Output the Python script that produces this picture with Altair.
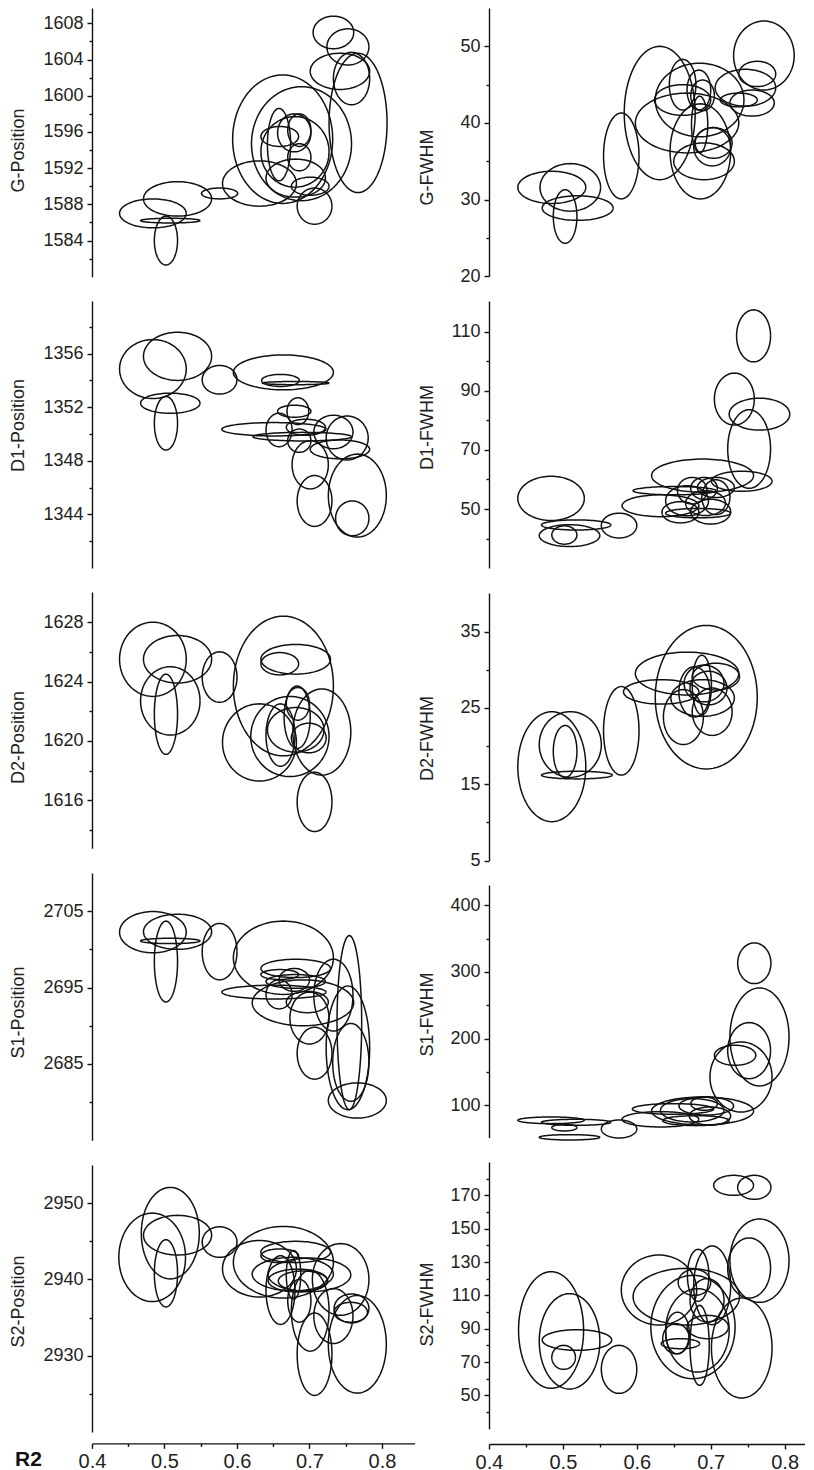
import math
import pandas as pd
import altair as alt

# Each ellipse: (center R2, center value, half-width in R2, half-height in value)
G_POSITION = [
    (0.733, 1607.0, 0.028, 1.8), (0.753, 1605.4, 0.029, 2.0), (0.742, 1602.7, 0.041, 2.0),
    (0.767, 1597.0, 0.040, 7.7), (0.758, 1601.9, 0.025, 2.9), (0.663, 1595.2, 0.069, 7.1),
    (0.689, 1594.7, 0.069, 6.3), (0.680, 1593.8, 0.047, 3.9), (0.658, 1594.6, 0.016, 4.0),
    (0.659, 1595.5, 0.026, 1.1), (0.679, 1595.9, 0.023, 2.1), (0.686, 1596.2, 0.016, 1.8),
    (0.686, 1593.2, 0.016, 1.5), (0.681, 1590.9, 0.041, 2.1), (0.701, 1590.0, 0.026, 1.0),
    (0.707, 1587.8, 0.024, 2.0), (0.631, 1590.3, 0.051, 2.5), (0.576, 1589.2, 0.025, 0.6),
    (0.518, 1588.6, 0.047, 1.9), (0.484, 1587.0, 0.046, 1.6), (0.508, 1586.2, 0.041, 0.26),
    (0.502, 1584.0, 0.016, 2.7),
]
G_FWHM = [
    (0.772, 48.8, 0.041, 4.5), (0.763, 46.4, 0.025, 1.65), (0.747, 44.6, 0.041, 2.4),
    (0.756, 42.6, 0.030, 1.7), (0.738, 43.0, 0.025, 0.9), (0.685, 43.0, 0.060, 4.8),
    (0.668, 40.0, 0.070, 3.9), (0.631, 41.3, 0.048, 8.7), (0.579, 35.7, 0.024, 5.6),
    (0.662, 45.0, 0.018, 3.3), (0.684, 44.3, 0.016, 2.6), (0.689, 43.6, 0.016, 2.0),
    (0.662, 43.0, 0.038, 2.0), (0.686, 36.3, 0.041, 6.2), (0.691, 35.0, 0.041, 2.4),
    (0.702, 36.9, 0.025, 2.5), (0.704, 37.4, 0.025, 2.0), (0.685, 39.8, 0.011, 3.7),
    (0.510, 31.6, 0.041, 3.1), (0.485, 31.6, 0.046, 2.1), (0.520, 28.9, 0.048, 1.6),
    (0.503, 27.8, 0.016, 3.5),
]
D1_POSITION = [
    (0.484, 1354.85, 0.046, 2.2), (0.518, 1355.8, 0.047, 1.8), (0.508, 1352.3, 0.041, 0.75),
    (0.502, 1350.8, 0.016, 2.0), (0.576, 1354.05, 0.024, 1.07), (0.664, 1354.6, 0.069, 1.3),
    (0.660, 1354.0, 0.026, 0.45), (0.681, 1353.8, 0.046, 0.12), (0.684, 1351.7, 0.015, 1.0),
    (0.679, 1351.7, 0.023, 0.45), (0.651, 1350.35, 0.072, 0.5), (0.690, 1349.8, 0.068, 0.32),
    (0.658, 1350.3, 0.018, 1.25), (0.686, 1349.5, 0.016, 0.87), (0.695, 1350.5, 0.027, 0.6),
    (0.733, 1350.15, 0.027, 1.25), (0.752, 1349.7, 0.029, 1.64), (0.742, 1348.85, 0.041, 0.7),
    (0.701, 1347.7, 0.025, 1.8), (0.707, 1345.0, 0.024, 1.9), (0.766, 1345.4, 0.040, 3.1),
    (0.759, 1343.7, 0.023, 1.3),
]
D1_FWHM = [
    (0.758, 108.6, 0.023, 8.8), (0.732, 87.2, 0.027, 8.8), (0.766, 82.1, 0.041, 5.4),
    (0.752, 70.3, 0.029, 13.3), (0.689, 61.3, 0.069, 5.6), (0.742, 59.4, 0.041, 3.4),
    (0.484, 53.6, 0.045, 7.5), (0.518, 44.6, 0.047, 1.7), (0.509, 41.0, 0.041, 3.7),
    (0.502, 41.2, 0.017, 3.1), (0.576, 44.4, 0.024, 4.2), (0.632, 51.1, 0.052, 3.7),
    (0.651, 56.2, 0.056, 1.4), (0.668, 52.8, 0.029, 5.1), (0.675, 56.2, 0.020, 4.5),
    (0.691, 57.0, 0.018, 3.7), (0.707, 57.3, 0.025, 3.4), (0.700, 49.1, 0.027, 4.2),
    (0.659, 48.9, 0.025, 3.6), (0.683, 48.6, 0.044, 1.6), (0.693, 52.0, 0.027, 4.2),
    (0.707, 54.0, 0.019, 5.9),
]
D2_POSITION = [
    (0.484, 1625.5, 0.046, 2.5), (0.518, 1625.5, 0.047, 1.6), (0.508, 1622.7, 0.041, 2.3),
    (0.502, 1621.8, 0.016, 2.7), (0.576, 1624.3, 0.024, 1.7), (0.664, 1623.7, 0.069, 4.7),
    (0.681, 1625.5, 0.048, 1.0), (0.659, 1625.2, 0.026, 0.75), (0.631, 1619.9, 0.051, 2.6),
    (0.673, 1620.3, 0.054, 2.7), (0.717, 1620.6, 0.040, 2.9), (0.683, 1621.6, 0.018, 2.1),
    (0.684, 1622.5, 0.016, 1.1), (0.660, 1620.4, 0.020, 2.1), (0.681, 1620.75, 0.039, 1.5),
    (0.699, 1620.2, 0.024, 1.0), (0.707, 1615.9, 0.024, 2.0),
]
D2_FWHM = [
    (0.485, 17.3, 0.046, 7.2), (0.510, 20.2, 0.042, 4.3), (0.503, 19.3, 0.016, 3.4),
    (0.519, 16.2, 0.048, 0.5), (0.579, 22.0, 0.024, 5.8), (0.633, 27.1, 0.051, 1.6),
    (0.668, 29.5, 0.070, 2.8), (0.694, 26.4, 0.069, 9.4), (0.689, 26.3, 0.043, 2.4),
    (0.707, 29.1, 0.032, 1.75), (0.663, 23.8, 0.027, 3.6), (0.702, 24.5, 0.027, 3.1),
    (0.688, 28.0, 0.013, 3.9), (0.678, 27.1, 0.021, 3.3), (0.691, 28.2, 0.027, 2.4),
    (0.697, 27.6, 0.025, 2.2),
]
S1_POSITION = [
    (0.484, 2702.25, 0.046, 2.7), (0.518, 2702.3, 0.047, 2.3), (0.508, 2701.1, 0.041, 0.35),
    (0.502, 2698.4, 0.016, 5.3), (0.576, 2699.7, 0.024, 3.7), (0.664, 2698.9, 0.069, 4.8),
    (0.681, 2697.5, 0.048, 1.2), (0.659, 2696.7, 0.026, 0.65), (0.681, 2695.8, 0.041, 0.9),
    (0.679, 2696.0, 0.021, 1.5), (0.651, 2694.4, 0.072, 0.9), (0.691, 2693.0, 0.070, 3.0),
    (0.658, 2694.1, 0.018, 1.9), (0.697, 2693.1, 0.029, 1.4), (0.700, 2691.0, 0.027, 3.4),
    (0.733, 2694.0, 0.027, 4.7), (0.753, 2687.1, 0.030, 8.1), (0.755, 2690.4, 0.017, 11.4),
    (0.757, 2685.2, 0.025, 5.1), (0.766, 2680.2, 0.040, 2.3), (0.707, 2686.4, 0.024, 3.4),
]
S1_FWHM = [
    (0.759, 313.0, 0.0225, 30.5), (0.766, 202.5, 0.040, 73.5), (0.752, 182.0, 0.029, 42.0),
    (0.733, 175.0, 0.028, 15.0), (0.741, 142.5, 0.042, 52.5), (0.689, 91.5, 0.069, 21.0),
    (0.632, 79.0, 0.052, 11.5), (0.649, 94.5, 0.055, 8.0), (0.675, 92.5, 0.043, 17.5),
    (0.694, 99.0, 0.037, 13.5), (0.699, 84.0, 0.028, 13.5), (0.680, 77.0, 0.045, 7.5),
    (0.691, 102.5, 0.018, 10.0), (0.484, 77.5, 0.045, 5.0), (0.518, 74.5, 0.047, 4.5),
    (0.502, 66.5, 0.017, 5.0), (0.509, 52.0, 0.041, 4.0), (0.576, 64.5, 0.024, 13.5),
]
S2_POSITION = [
    (0.483, 2942.9, 0.046, 5.8), (0.508, 2946.06, 0.040, 6.0), (0.518, 2945.8, 0.047, 2.6),
    (0.502, 2940.8, 0.016, 4.4), (0.576, 2944.9, 0.024, 2.0), (0.664, 2942.25, 0.069, 4.7),
    (0.631, 2941.4, 0.051, 3.7), (0.681, 2943.6, 0.048, 1.4), (0.659, 2943.1, 0.026, 0.9),
    (0.677, 2940.7, 0.056, 2.2), (0.700, 2940.6, 0.057, 2.2), (0.684, 2939.85, 0.041, 1.5),
    (0.691, 2939.8, 0.034, 1.3), (0.660, 2938.6, 0.020, 4.5), (0.678, 2940.6, 0.010, 3.2),
    (0.686, 2937.2, 0.016, 2.8), (0.701, 2935.9, 0.026, 5.3), (0.743, 2940.0, 0.039, 4.7),
    (0.733, 2935.2, 0.027, 3.6), (0.758, 2936.2, 0.024, 1.9), (0.757, 2935.7, 0.023, 1.3),
    (0.766, 2931.5, 0.040, 6.4), (0.707, 2930.2, 0.024, 5.4),
]
S2_FWHM = [
    (0.731, 176.0, 0.027, 6.0), (0.759, 174.8, 0.0225, 7.2), (0.766, 130.8, 0.040, 25.0),
    (0.752, 126.4, 0.029, 18.0), (0.630, 113.2, 0.051, 21.0), (0.667, 109.2, 0.072, 17.0),
    (0.683, 122.0, 0.0145, 15.6), (0.678, 117.8, 0.022, 7.8), (0.702, 116.0, 0.025, 23.6),
    (0.695, 107.0, 0.023, 13.0), (0.676, 91.0, 0.057, 31.0), (0.682, 89.0, 0.043, 25.0),
    (0.742, 78.4, 0.041, 30.0), (0.685, 80.0, 0.013, 24.0), (0.696, 91.0, 0.028, 7.0),
    (0.655, 87.4, 0.016, 12.5), (0.659, 81.0, 0.026, 3.0), (0.653, 84.0, 0.018, 9.0),
    (0.484, 89.2, 0.044, 35.0), (0.509, 82.4, 0.041, 28.6), (0.519, 83.2, 0.047, 6.2),
    (0.501, 72.8, 0.016, 7.2), (0.576, 65.6, 0.024, 14.4),
]

X_MAJOR = [0.4, 0.5, 0.6, 0.7, 0.8]
X_MINOR = [0.45, 0.55, 0.65, 0.75]

LEFT = [
    dict(title="G-Position", data=G_POSITION, domain=[1580, 1609.7],
         major=[1584, 1588, 1592, 1596, 1600, 1604, 1608],
         minor=[1582, 1586, 1590, 1594, 1598, 1602, 1606], height=268.7, ty=142),
    dict(title="D1-Position", data=D1_POSITION, domain=[1340, 1359.93],
         major=[1344, 1348, 1352, 1356], minor=[1342, 1346, 1350, 1354, 1358],
         height=266.9, ty=124),
    dict(title="D2-Position", data=D2_POSITION, domain=[1612.78, 1630.03],
         major=[1616, 1620, 1624, 1628], minor=[1614, 1618, 1622, 1626],
         height=256.2, ty=145),
    dict(title="S1-Position", data=S1_POSITION, domain=[2675, 2710],
         major=[2685, 2695, 2705], minor=[2680, 2690, 2700], height=267.2, ty=139),
    dict(title="S2-Position", data=S2_POSITION, domain=[2920, 2955],
         major=[2930, 2940, 2950], minor=[2925, 2935, 2945], height=267, ty=136),
]
RIGHT = [
    dict(title="G-FWHM", data=G_FWHM, domain=[20, 55],
         major=[20, 30, 40, 50], minor=[25, 35, 45], height=268.3, ty=159),
    dict(title="D1-FWHM", data=D1_FWHM, domain=[30, 120.4],
         major=[50, 70, 90, 110], minor=[40, 60, 80, 100], height=267.1, ty=126),
    dict(title="D2-FWHM", data=D2_FWHM, domain=[5, 40.05],
         major=[5, 15, 25, 35], minor=[10, 20, 30], height=267.6, ty=145),
    dict(title="S1-FWHM", data=S1_FWHM, domain=[51.4, 430.4],
         major=[100, 200, 300, 400], minor=[150, 250, 350], height=252.7, ty=129),
    dict(title="S2-FWHM", data=S2_FWHM, domain=[30, 190],
         major=[50, 70, 90, 110, 130, 150, 170], minor=[40, 60, 80, 100, 120, 140, 160, 180],
         height=266.7, ty=142),
]

FONT = "Liberation Sans"
INK = "#111111"
N = 96


def ellipse_frame(ellipses):
    rows = []
    for i, (cx, cy, rx, ry) in enumerate(ellipses):
        for k in range(N + 1):
            t = 2 * math.pi * k / N
            rows.append({"id": i, "k": k,
                         "x": cx + rx * math.cos(t), "y": cy + ry * math.sin(t)})
    return pd.DataFrame(rows)


def minor_test(minor):
    return "indexof(" + str(minor) + ", datum.value) >= 0"


def panel(spec, width, xdom, title_x, bottom, xoffset, r2):
    df = ellipse_frame(spec["data"])
    yaxis = alt.Axis(
        values=spec["major"] + spec["minor"],
        labelExpr=minor_test(spec["minor"]) + " ? '' : datum.label",
        format="d", grid=False, labelOverlap=False,
        tickSize={"condition": {"test": minor_test(spec["minor"]), "value": 3}, "value": 5},
        labelPadding=4,
        title=spec["title"], titleX=title_x, titleY=spec["ty"],
        titleBaseline="middle", titleAlign="center", titleAngle=-90,
    )
    xscale = alt.Scale(domain=xdom, nice=False, zero=False)
    if bottom:
        xkw = dict(
            values=X_MAJOR + X_MINOR,
            labelExpr=minor_test(X_MINOR) + " ? '' : datum.label",
            format=".1f", grid=False, labelOverlap=False, labelFlush=False,
            tickSize={"condition": {"test": minor_test(X_MINOR), "value": 3}, "value": 5},
            labelPadding=3, labelFontSize=20, offset=xoffset,
        )
        if r2:
            xkw.update(title="R2", titleX=-64, titleY=16, titleBaseline="middle",
                       titleAlign="center", titleFontWeight="bold", titleFontSize=21,
                       titleColor="#111")
        else:
            xkw.update(title="")
        enc_x = alt.X("x:Q", scale=xscale, axis=alt.Axis(**xkw))
    else:
        enc_x = alt.X("x:Q", scale=xscale, axis=None)
    return alt.Chart(df).mark_line(
        color=INK, strokeWidth=1.5, interpolate="linear"
    ).encode(
        x=enc_x,
        y=alt.Y("y:Q", scale=alt.Scale(domain=spec["domain"], nice=False, zero=False),
                axis=yaxis),
        detail="id:N",
        order="k:Q",
    ).properties(width=width, height=spec["height"])


LW, RW = 322.6, 316
LXD, RXD = [0.4, 0.845], [0.4, 0.8276]

lp = [panel(s, LW, LXD, -74, i == 4, 11.4, True) for i, s in enumerate(LEFT)]
rp = [panel(s, RW, RXD, -62, i == 4, 15.3, False) for i, s in enumerate(RIGHT)]

left_col = alt.VConcatChart(vconcat=lp, spacing=24, bounds="flush")
right_col = alt.VConcatChart(vconcat=rp, spacing=24, bounds="flush")

chart = alt.HConcatChart(
    hconcat=[left_col, right_col], spacing=3, padding=0
).configure_view(stroke=None).configure_axis(
    domainColor=INK, domainWidth=1.4, tickColor=INK, tickWidth=1.4,
    labelFont=FONT, labelFontSize=18, labelColor="#222",
    titleFont=FONT, titleFontSize=18, titleFontWeight="normal", titleColor="#222",
)

chart.save("out.html", embed_options={"renderer": "svg", "actions": False})
